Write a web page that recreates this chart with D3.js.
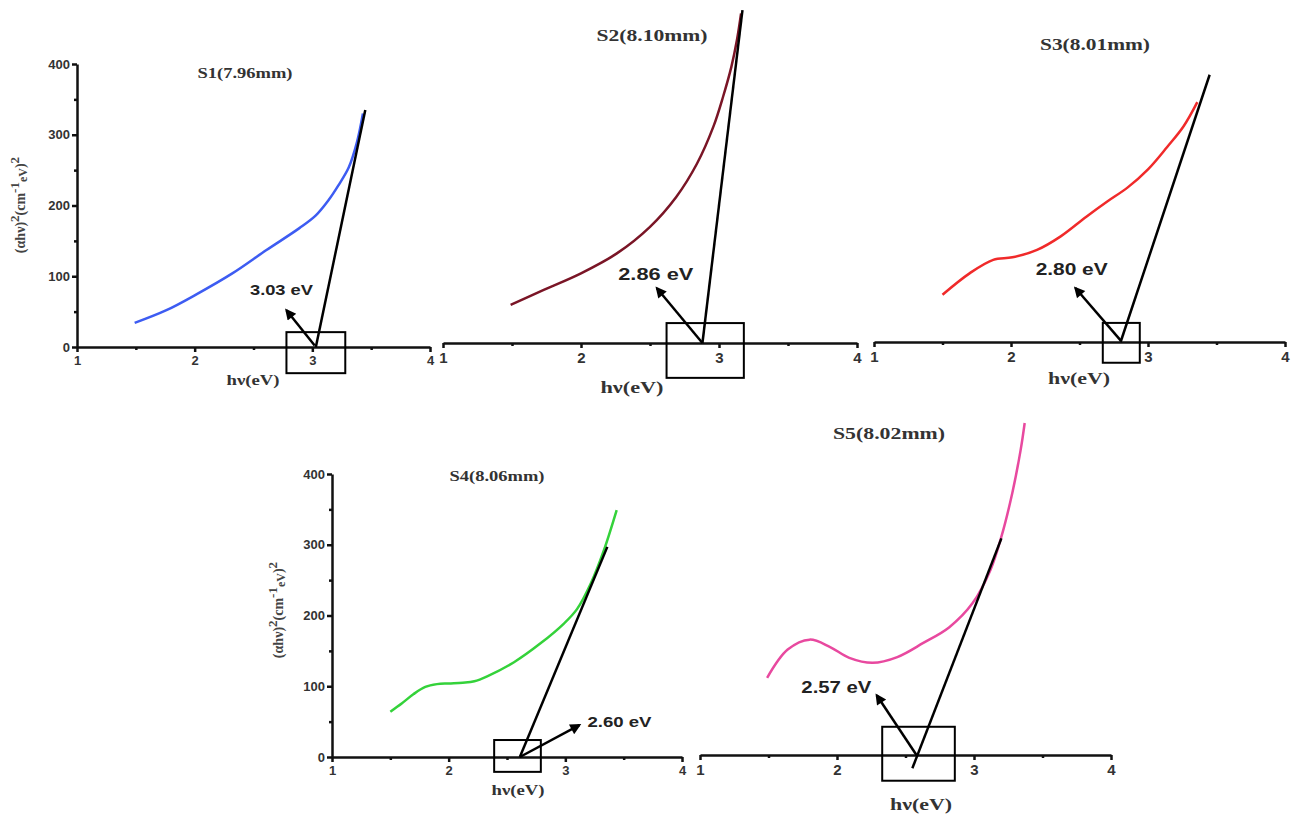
<!DOCTYPE html>
<html>
<head>
<meta charset="utf-8">
<script src="https://cdn.jsdelivr.net/npm/d3@7"></script>
<style>
  body { margin: 0; background: #fff; }
  .tick text { font-family: "Liberation Sans", Arial, sans-serif; font-weight: bold; fill: #333; }
  .title, .xlabel, .ylabel { font-family: "Liberation Serif", "Times New Roman", serif; font-weight: bold; }
  .gap { font-family: "Liberation Sans", Arial, sans-serif; font-weight: bold; fill: #222; }
</style>
</head>
<body>
<div id="chart"></div>
<script>
// photon energy (eV) and (alpha h nu)^2
var s1Energy = [1.49, 1.76, 2.00, 2.32, 2.61, 2.89, 3.03, 3.14, 3.22, 3.31, 3.38, 3.43];
var s1Value  = [34, 52, 73, 104, 137, 168, 186, 208, 228, 254, 290, 330];
var s2Energy = [1.49, 1.73, 2.00, 2.26, 2.50, 2.69, 2.84, 2.96, 3.03, 3.09, 3.13, 3.16];
var s2Value  = [46, 64, 84, 108, 140, 176, 216, 261, 297, 333, 365, 397];
var s3Energy = [1.50, 1.70, 1.87, 2.01, 2.19, 2.36, 2.55, 2.70, 2.85, 3.00, 3.14, 3.26, 3.36];
var s3Value  = [57, 83, 99, 102, 111, 127, 151, 169, 186, 208, 235, 260, 289];
var s4Energy = [1.50, 1.60, 1.70, 1.80, 1.90, 2.00, 2.12, 2.22, 2.33, 2.56, 2.79, 2.99, 3.10, 3.22, 3.33, 3.44];
var s4Value  = [64, 76, 89, 99, 103, 104, 105, 107, 114, 134, 161, 189, 209, 246, 292, 349];
var s5Energy = [1.49, 1.64, 1.80, 1.95, 2.09, 2.26, 2.44, 2.63, 2.82, 2.99, 3.12, 3.20, 3.28, 3.34, 3.37];
var s5Value  = [93, 127, 139, 130, 117, 111, 118, 135, 154, 183, 223, 263, 316, 367, 400];

// linear fits (Tauc extrapolation)
var tangentEnergy = [[3.03, 3.45], [2.88, 3.17], [2.80, 3.45], [2.61, 3.36], [2.55, 3.20]];
var tangentValue  = [[0, 335], [0, 401], [0, 322], [0, 297], [-16, 261]];

var sampleNames = ["S1(7.96mm)", "S2(8.10mm)", "S3(8.01mm)", "S4(8.06mm)", "S5(8.02mm)"];
var gapLabels = ["3.03 eV", "2.86 eV", "2.80 eV", "2.60 eV", "2.57 eV"];
var xTicks = [1, 2, 3, 4];
var xMinorTicks = [1.5, 2.5, 3.5];
var yTicks = [0, 100, 200, 300, 400];
var yMinorTicks = [50, 150, 250, 350];

var energies = [s1Energy, s2Energy, s3Energy, s4Energy, s5Energy];
var values = [s1Value, s2Value, s3Value, s4Value, s5Value];
var colors = ["#3d5cf2", "#7a1526", "#f02a2a", "#34d23a", "#e8499f"];

// layout of each pasted panel (pixel boxes, label sizes and widths)
var panels = [
  {x: [77, 430], y: [347, 64], yAxis: true, fs: 13,
   titleAt: [245, 78], titleFs: 14, titleW: 95,
   xlabAt: [253, 385], xlabFs: 14, xlabW: 53,
   ylabAt: [25, 205], ylabW: 136,
   lab: [2.47, 73], labFs: 14, labW: 63,
   arrow: [[3.02, 2], [2.78, 52]], box: [[2.78, 21], [3.28, -37]]},
  {x: [443, 857], y: [343, 11], yAxis: false, fs: 15,
   titleAt: [652, 41], titleFs: 17, titleW: 111,
   xlabAt: [632, 393], xlabFs: 17, xlabW: 63,
   lab: [2.27, 76], labFs: 17, labW: 75,
   arrow: [[2.88, 0], [2.55, 66]], box: [[2.62, 24], [3.18, -42]]},
  {x: [874, 1285], y: [342, 10], yAxis: false, fs: 15,
   titleAt: [1095, 50], titleFs: 16, titleW: 110,
   xlabAt: [1079, 384], xlabFs: 16, xlabW: 62,
   lab: [2.18, 81], labFs: 16, labW: 72,
   arrow: [[2.80, 2], [2.47, 65]], box: [[2.67, 23], [2.94, -25]]},
  {x: [332, 682], y: [757, 474], yAxis: true, fs: 13,
   titleAt: [497, 481], titleFs: 14, titleW: 95,
   xlabAt: [518, 795], xlabFs: 14, xlabW: 53,
   ylabAt: [283, 610], ylabW: 134,
   lab: [3.19, 42], labFs: 14, labW: 64,
   arrow: [[2.61, 0], [3.12, 45]], box: [[2.39, 24], [2.79, -21]]},
  {x: [700, 1111], y: [755, 423], yAxis: false, fs: 15,
   titleAt: [889, 439], titleFs: 17, titleW: 112,
   xlabAt: [921, 810], xlabFs: 16, xlabW: 62,
   lab: [1.74, 75], labFs: 16, labW: 70,
   arrow: [[2.58, 0], [2.29, 72]], box: [[2.33, 34], [2.86, -31]]}
];

var svg = d3.select("#chart")
  .append("svg")
  .attr("width", 1295)
  .attr("height", 814);

svg.append("defs").append("marker")
  .attr("id", "head")
  .attr("viewBox", "0 0 10 10")
  .attr("refX", 8).attr("refY", 5)
  .attr("markerWidth", 14).attr("markerHeight", 11)
  .attr("markerUnits", "userSpaceOnUse")
  .attr("orient", "auto")
  .append("path")
  .attr("d", "M0,0 L10,5 L0,10 z")
  .attr("fill", "#000");

panels.forEach(function(p, i) {
  var xScale = d3.scaleLinear().domain([1, 4]).range(p.x);
  var yScale = d3.scaleLinear().domain([0, 400]).range(p.y);
  var g = svg.append("g");

  // x axis
  var xAxis = g.append("g")
    .attr("transform", "translate(0," + yScale(0) + ")")
    .call(d3.axisBottom(xScale).tickValues(xTicks).tickFormat(d3.format("d"))
      .tickSizeInner(5).tickSizeOuter(0).tickPadding(4));
  g.append("g")
    .attr("transform", "translate(0," + yScale(0) + ")")
    .call(d3.axisBottom(xScale).tickValues(xMinorTicks).tickSize(3).tickFormat(""))
    .select(".domain").remove();
  xAxis.selectAll("text").style("font-size", p.fs + "px");

  // y axis only on the panels that show one
  if (p.yAxis) {
    var yAxis = g.append("g")
      .attr("transform", "translate(" + xScale(1) + ",0)")
      .call(d3.axisLeft(yScale).tickValues(yTicks).tickFormat(d3.format("d"))
        .tickSizeInner(5).tickSizeOuter(0).tickPadding(2));
    g.append("g")
      .attr("transform", "translate(" + xScale(1) + ",0)")
      .call(d3.axisLeft(yScale).tickValues(yMinorTicks).tickSize(3).tickFormat(""))
      .select(".domain").remove();
    yAxis.selectAll("text").style("font-size", p.fs + "px");

    var yl = g.append("text")
      .attr("class", "ylabel")
      .attr("transform", "translate(" + p.ylabAt[0] + "," + p.ylabAt[1] + ") rotate(-90)")
      .attr("text-anchor", "middle")
      .style("font-size", "14px")
      .style("fill", "#444");
    yl.append("tspan").text("(\u03b1h\u03bd)");
    yl.append("tspan").attr("dy", -6).style("font-size", "13px").text("2");
    yl.append("tspan").attr("dy", 6).text("(cm");
    yl.append("tspan").attr("dy", -6).style("font-size", "13px").text("-1");
    yl.append("tspan").attr("dy", 8).style("font-size", "12px").text("eV");
    yl.append("tspan").attr("dy", -2).text(")");
    yl.append("tspan").attr("dy", -6).style("font-size", "13px").text("2");
  }

  g.selectAll(".domain, .tick line")
    .attr("stroke", "#111")
    .attr("stroke-width", 2.5);

  // measured curve
  var pts = energies[i].map(function(e, k) { return [e, values[i][k]]; });
  var line = d3.line()
    .x(function(d) { return xScale(d[0]); })
    .y(function(d) { return yScale(d[1]); })
    .curve(d3.curveCatmullRom.alpha(0.5));

  g.append("path")
    .datum(pts)
    .attr("d", line)
    .attr("fill", "none")
    .attr("stroke", colors[i])
    .attr("stroke-width", 2.5);

  // extrapolated tangent
  var tan = tangentEnergy[i].map(function(e, k) { return [e, tangentValue[i][k]]; });
  g.append("path")
    .datum(tan)
    .attr("d", d3.line().x(function(d) { return xScale(d[0]); }).y(function(d) { return yScale(d[1]); }))
    .attr("stroke", "#000")
    .attr("stroke-width", 2.5);

  // box around the intercept
  g.append("rect")
    .attr("x", xScale(p.box[0][0]))
    .attr("y", yScale(p.box[0][1]))
    .attr("width", xScale(p.box[1][0]) - xScale(p.box[0][0]))
    .attr("height", yScale(p.box[1][1]) - yScale(p.box[0][1]))
    .attr("fill", "none")
    .attr("stroke", "#000")
    .attr("stroke-width", 2);

  // arrow to the band gap label
  g.append("line")
    .attr("x1", xScale(p.arrow[0][0])).attr("y1", yScale(p.arrow[0][1]))
    .attr("x2", xScale(p.arrow[1][0])).attr("y2", yScale(p.arrow[1][1]))
    .attr("stroke", "#000")
    .attr("stroke-width", 2.5)
    .attr("marker-end", "url(#head)");

  g.append("text")
    .attr("class", "gap")
    .attr("x", xScale(p.lab[0]))
    .attr("y", yScale(p.lab[1]))
    .attr("textLength", p.labW)
    .attr("lengthAdjust", "spacingAndGlyphs")
    .style("font-size", p.labFs + "px")
    .text(gapLabels[i]);

  g.append("text")
    .attr("class", "title")
    .attr("x", p.titleAt[0] - p.titleW / 2).attr("y", p.titleAt[1])
    .attr("textLength", p.titleW)
    .attr("lengthAdjust", "spacingAndGlyphs")
    .style("font-size", p.titleFs + "px")
    .style("fill", "#333")
    .text(sampleNames[i]);

  g.append("text")
    .attr("class", "xlabel")
    .attr("x", p.xlabAt[0] - p.xlabW / 2).attr("y", p.xlabAt[1])
    .attr("textLength", p.xlabW)
    .attr("lengthAdjust", "spacingAndGlyphs")
    .style("font-size", p.xlabFs + "px")
    .style("fill", "#333")
    .text("h\u03bd(eV)");
});
</script>
</body>
</html>
